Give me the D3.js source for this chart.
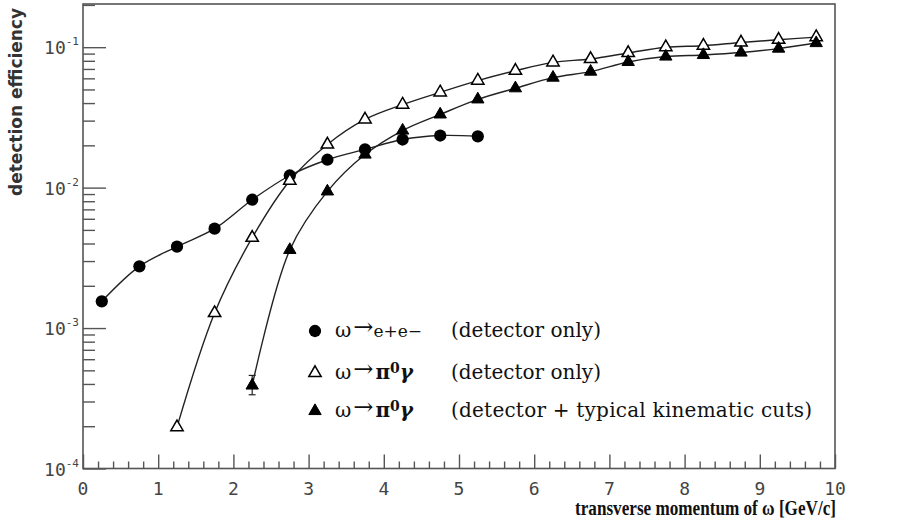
<!DOCTYPE html>
<html><head><meta charset="utf-8">
<script src="https://cdn.jsdelivr.net/npm/d3@7"></script>
<style>html,body{margin:0;padding:0;background:#fff;}svg{display:block;}</style>
</head><body>
<svg id="chart" width="918" height="525"></svg>
<script>
// ---- data ----
const ptEE = [0.25, 0.75, 1.25, 1.75, 2.25, 2.75, 3.25, 3.75, 4.25, 4.75, 5.25];
const effEE = [0.00155, 0.00275, 0.0038, 0.0051, 0.0082, 0.0122, 0.0158, 0.0187, 0.022, 0.0235, 0.0232];

const ptPi0 = [1.25, 1.75, 2.25, 2.75, 3.25, 3.75, 4.25, 4.75, 5.25, 5.75, 6.25, 6.75, 7.25, 7.75, 8.25, 8.75, 9.25, 9.75];
const effPi0 = [0.000197, 0.00128, 0.0044, 0.0112, 0.0203, 0.0306, 0.039, 0.0477, 0.0578, 0.068, 0.078, 0.0824, 0.091, 0.100, 0.1025, 0.108, 0.113, 0.118];

const ptCuts = [2.25, 2.75, 3.25, 3.75, 4.25, 4.75, 5.25, 5.75, 6.25, 6.75, 7.25, 7.75, 8.25, 8.75, 9.25, 9.75];
const effCuts = [0.00039, 0.0036, 0.0094, 0.0172, 0.0255, 0.0332, 0.0425, 0.051, 0.0607, 0.067, 0.0785, 0.0858, 0.088, 0.0916, 0.0977, 0.107];
const errCutsLow = [0.000335, null, null, null, null, null, null, null, null, null, null, null, null, null, null, null];
const errCutsHigh = [0.00046, null, null, null, null, null, null, null, null, null, null, null, null, null, null, null];

const xTickLabels = ["0","1","2","3","4","5","6","7","8","9","10"];
const yTickExponents = ["-4","-3","-2","-1"];
const legendLabels = [
  {sym: "circle", pre: "ω", arrow: "→", decay: "e+e−", note: "(detector only)"},
  {sym: "open", pre: "ω", arrow: "→", decay: "pi0g", note: "(detector only)"},
  {sym: "filled", pre: "ω", arrow: "→", decay: "pi0g", note: "(detector + typical kinematic cuts)"}
];
const xTitle = "transverse momentum of ω  [GeV/c]";
const yTitle = "detection efficiency";

// ---- layout ----
const L = 83, R = 835, T = 4, B = 468.5;
const svg = d3.select("#chart");
const x = d3.scaleLinear().domain([0, 10]).range([L, R]);
const y = d3.scaleLog().domain([1e-4, 0.203]).range([B, T]);
const axisColor = "#555";

// minor ticks
const xMinor = d3.range(0, 10.001, 0.2).filter(v => Math.abs(v - Math.round(v)) > 1e-6);
const yMinor = [];
[-4, -3, -2, -1].forEach(e => { for (let k = 2; k <= 9; k++) { const v = k * Math.pow(10, e); if (v <= 0.203) yMinor.push(v); } });

const gx = svg.append("g").attr("transform", `translate(0,${B})`);
gx.call(d3.axisBottom(x).tickValues(d3.range(0, 11)).tickSize(-14).tickFormat(""));
const gxm = svg.append("g").attr("transform", `translate(0,${B})`);
gxm.call(d3.axisBottom(x).tickValues(xMinor).tickSize(-7).tickFormat(""));
const gy = svg.append("g").attr("transform", `translate(${L},0)`);
gy.call(d3.axisLeft(y).tickValues([1e-4, 1e-3, 1e-2, 1e-1]).tickSize(-23).tickFormat(""));
const gym = svg.append("g").attr("transform", `translate(${L},0)`);
gym.call(d3.axisLeft(y).tickValues(yMinor).tickSize(-12).tickFormat(""));
[gx, gxm, gy, gym].forEach(g => {
  g.select(".domain").remove();
  g.selectAll("line").attr("stroke", axisColor).attr("stroke-width", 1.4);
});

// frame
svg.append("rect").attr("x", L).attr("y", T).attr("width", R - L).attr("height", B - T)
  .attr("fill", "none").attr("stroke", axisColor).attr("stroke-width", 1.6);

// x tick labels
svg.append("g").selectAll("text").data(xTickLabels).join("text")
  .attr("x", (d, i) => x(i)).attr("y", 495)
  .attr("text-anchor", "middle")
  .attr("font-family", "DejaVu Sans Mono, monospace").attr("font-size", 18).attr("fill", "#444")
  .text(d => d);

// y tick labels
const yl = svg.append("g").selectAll("text").data(yTickExponents).join("text")
  .attr("x", 79).attr("y", d => y(Math.pow(10, +d)) + 7)
  .attr("text-anchor", "end")
  .attr("font-family", "DejaVu Sans Mono, monospace").attr("font-size", 18).attr("fill", "#444");
yl.append("tspan").text("10");
yl.append("tspan").attr("dy", -9).attr("font-size", 11).text(d => d);

// axis titles
svg.append("text").attr("x", 836).attr("y", 515).attr("text-anchor", "end")
  .attr("font-family", "Liberation Serif, serif").attr("font-size", 20).attr("fill", "#111")
  .attr("font-weight", "bold").attr("textLength", 261).attr("lengthAdjust", "spacingAndGlyphs")
  .text(xTitle);
svg.append("text").attr("transform", "translate(22,8) rotate(-90)").attr("text-anchor", "end")
  .attr("font-family", "DejaVu Sans, sans-serif").attr("font-size", 17).attr("font-weight", "bold").attr("fill", "#333")
  .attr("textLength", 188).attr("lengthAdjust", "spacingAndGlyphs")
  .text(yTitle);

// curves
const line = d3.line().x(d => x(d[0])).y(d => y(d[1])).curve(d3.curveCatmullRom.alpha(0.5));
const series = [
  {pt: ptEE, eff: effEE},
  {pt: ptPi0, eff: effPi0},
  {pt: ptCuts, eff: effCuts}
];
series.forEach(s => {
  svg.append("path").datum(s.pt.map((p, i) => [p, s.eff[i]]))
    .attr("d", line).attr("fill", "none").attr("stroke", "#222").attr("stroke-width", 1.4);
});

// error bars
const errG = svg.append("g");
ptCuts.forEach((p, i) => {
  if (errCutsLow[i] == null) return;
  const cx = x(p), y1 = y(errCutsHigh[i]), y2 = y(errCutsLow[i]);
  errG.append("line").attr("x1", cx).attr("x2", cx).attr("y1", y1).attr("y2", y2).attr("stroke", "#222").attr("stroke-width", 1.2);
  [y1, y2].forEach(yy => errG.append("line").attr("x1", cx - 3.5).attr("x2", cx + 3.5).attr("y1", yy).attr("y2", yy).attr("stroke", "#222").attr("stroke-width", 1.2));
});

// markers
const tri = d3.symbol().type(d3.symbolTriangle).size(66);
const circ = d3.symbol().type(d3.symbolCircle).size(118);
svg.append("g").selectAll("path").data(ptEE.map((p, i) => [p, effEE[i]])).join("path")
  .attr("d", circ).attr("transform", d => `translate(${x(d[0])},${y(d[1])})`).attr("fill", "#000");
svg.append("g").selectAll("path").data(ptPi0.map((p, i) => [p, effPi0[i]])).join("path")
  .attr("d", tri).attr("transform", d => `translate(${x(d[0])},${y(d[1])})`)
  .attr("fill", "#fff").attr("stroke", "#000").attr("stroke-width", 1.5);
svg.append("g").selectAll("path").data(ptCuts.map((p, i) => [p, effCuts[i]])).join("path")
  .attr("d", tri).attr("transform", d => `translate(${x(d[0])},${y(d[1])})`)
  .attr("fill", "#000").attr("stroke", "#000").attr("stroke-width", 1);

// legend
const legY = [331, 373, 411];
const lg = svg.append("g").attr("font-family", "DejaVu Serif, serif").attr("font-size", 20).attr("fill", "#111");
legendLabels.forEach((d, i) => {
  const yy = legY[i];
  const m = lg.append("path").attr("transform", `translate(315,${yy})`);
  if (d.sym === "circle") m.attr("d", circ).attr("fill", "#000");
  else if (d.sym === "open") m.attr("d", tri).attr("fill", "#fff").attr("stroke", "#000").attr("stroke-width", 1.5);
  else m.attr("d", tri).attr("fill", "#000").attr("stroke", "#000");
  const t = lg.append("text").attr("x", 335).attr("y", yy + 6);
  t.append("tspan").text(d.pre);
  t.append("tspan").attr("dx", 2).attr("dy", -2).attr("font-size", 24).text(d.arrow);
  if (d.decay === "pi0g") {
    t.append("tspan").attr("dx", 2).attr("dy", 2).attr("font-weight", "bold").text("π");
    t.append("tspan").attr("dy", -6).attr("font-size", 14).attr("font-weight", "bold").text("0");
    t.append("tspan").attr("dy", 6).attr("font-style", "italic").attr("font-weight", "bold").text("γ");
  } else {
    t.append("tspan").attr("dx", 0).attr("dy", 2).attr("font-size", 17).text(d.decay);
  }
  lg.append("text").attr("x", 451).attr("y", yy + 6).attr("textLength", d.note.length > 20 ? 361 : null).text(d.note);
});
</script>
</body></html>
